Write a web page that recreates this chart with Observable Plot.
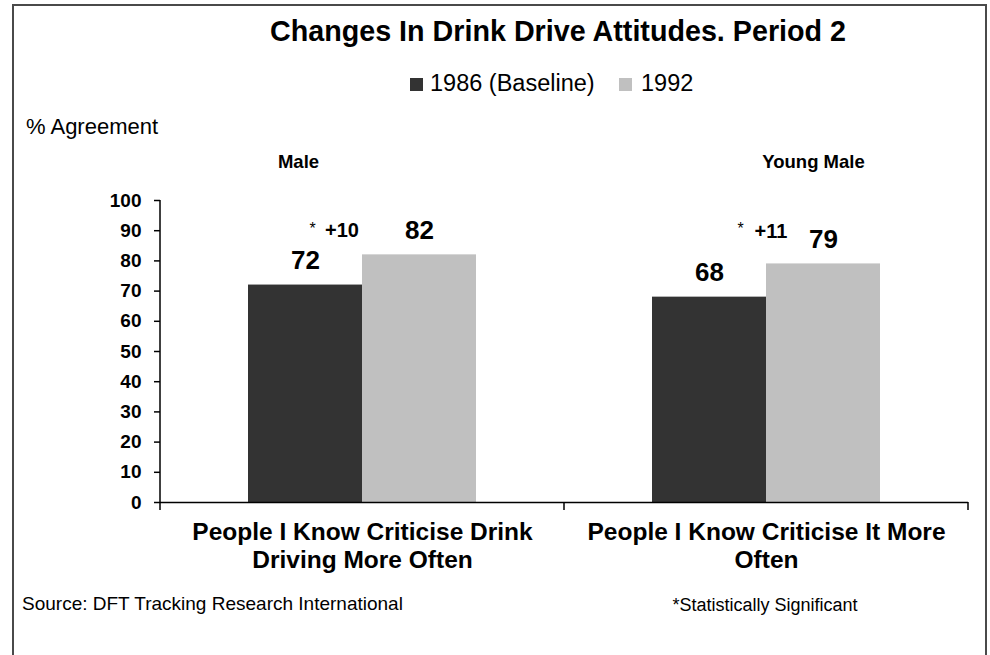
<!DOCTYPE html>
<html><head><meta charset="utf-8">
<script src="https://cdn.jsdelivr.net/npm/d3@7"></script>
<script src="https://cdn.jsdelivr.net/npm/@observablehq/plot@0.6"></script>
<style>
body{margin:0;background:#fff;font-family:"Liberation Sans",Arial,sans-serif;}
#wrap{position:relative;width:990px;height:655px;overflow:hidden;background:#fff;}
.abs{position:absolute;white-space:nowrap;line-height:1;color:#000;}
#border{position:absolute;left:12px;top:4px;width:971px;height:700px;border:2px solid #4a4a4a;}
.sw{position:absolute;width:13px;height:13px;}
</style></head><body>
<div id="wrap">
  <div id="border"></div>
  <div class="abs" id="title" style="left:158px;width:800px;text-align:center;top:17px;font-size:28.7px;font-weight:bold;"></div>
  <div id="legend"></div>
  <div class="abs" id="ylabel" style="left:26px;top:116px;font-size:22px;"></div>
  <div id="chart" style="position:absolute;left:0;top:140px;"></div>
  <div class="abs" id="source" style="left:22px;top:594px;font-size:19px;"></div>
  <div class="abs" id="note" style="left:565px;width:400px;text-align:center;top:596px;font-size:18px;"></div>
</div>
<script>
const titleText = "Changes In Drink Drive Attitudes. Period 2";
const yLabel = "% Agreement";
const sourceText = "Source: DFT Tracking Research International";
const noteText = "*Statistically Significant";

const categories = ["People I Know Criticise Drink\nDriving More Often", "People I Know Criticise It More\nOften"];
const groups = ["Male", "Young Male"];
const years = ["1986 (Baseline)", "1992"];
const values1986 = [72, 68];
const values1992 = [82, 79];
const diffs = ["+10", "+11"];
const yTicks = [0, 10, 20, 30, 40, 50, 60, 70, 80, 90, 100];
const colors = ["#333333", "#c0c0c0"];

document.getElementById("title").textContent = titleText;
document.getElementById("ylabel").textContent = yLabel;
document.getElementById("source").textContent = sourceText;
document.getElementById("note").textContent = noteText;

// legend
const legend = document.getElementById("legend");
const swLeft = [410, 619], txtLeft = [430, 641];
years.forEach((y, i) => {
  const s = document.createElement("div");
  s.className = "sw";
  s.style.left = swLeft[i] + "px"; s.style.top = "78px"; s.style.background = colors[i];
  legend.appendChild(s);
  const t = document.createElement("div");
  t.className = "abs";
  t.style.left = txtLeft[i] + "px"; t.style.top = "72px"; t.style.fontSize = "23.5px";
  t.textContent = y;
  legend.appendChild(t);
});

const rows = categories.flatMap((c, i) => [
  {cat: c, group: groups[i], year: years[0], value: values1986[i], diff: diffs[i]},
  {cat: c, group: groups[i], year: years[1], value: values1992[i], diff: diffs[i]}
]);
const base = rows.filter(d => d.year === years[0]);

const plot = Plot.plot({
  width: 990, height: 440,
  marginTop: 60, marginBottom: 78, marginLeft: 159, marginRight: 22,
  style: {fontFamily: "Liberation Sans, Arial, sans-serif", color: "#000", background: "transparent", overflow: "visible"},
  fx: {domain: categories, padding: 0, axis: null},
  x: {domain: years, paddingInner: 0, paddingOuter: 0.76, axis: null},
  y: {domain: [0, 100], axis: null},
  color: {domain: years, range: colors},
  marks: [
    Plot.barY(rows, {fx: "cat", x: "year", y: "value", fill: "year"}),
    Plot.ruleY([0], {stroke: "#000", strokeWidth: 1.5}),
    Plot.axisY({ticks: yTicks, tickSize: 6, tickPadding: 13, fontSize: 19, fontWeight: "bold", label: null, stroke: "#000", strokeWidth: 1.5}),
    Plot.text(rows, {fx: "cat", x: "year", y: "value", text: d => String(d.value), lineAnchor: "bottom", dy: -16, fontSize: 26, fontWeight: "bold", fill: "#000"}),
    // group labels
    Plot.text(base.filter((d, i) => i === 0), {fx: "cat", text: "group", frameAnchor: "top", lineAnchor: "middle", dy: -38, dx: -64, fontSize: 18.5, fontWeight: "bold", fill: "#000"}),
    Plot.text(base.filter((d, i) => i === 1), {fx: "cat", text: "group", frameAnchor: "top", lineAnchor: "middle", dy: -38, dx: 47, fontSize: 18.5, fontWeight: "bold", fill: "#000"}),
    // significance annotations
    Plot.text(base.filter((d, i) => i === 0), {fx: "cat", x: "year", text: () => "*", frameAnchor: "top", lineAnchor: "bottom", dy: 33, dx: 7, fontSize: 16, fill: "#000"}),
    Plot.text(base.filter((d, i) => i === 0), {fx: "cat", x: "year", text: "diff", frameAnchor: "top", lineAnchor: "bottom", dy: 36, dx: 36.5, fontSize: 20, fontWeight: "bold", fill: "#000"}),
    Plot.text(base.filter((d, i) => i === 1), {fx: "cat", x: "year", text: () => "*", frameAnchor: "top", lineAnchor: "bottom", dy: 33, dx: 31, fontSize: 16, fill: "#000"}),
    Plot.text(base.filter((d, i) => i === 1), {fx: "cat", x: "year", text: "diff", frameAnchor: "top", lineAnchor: "bottom", dy: 37, dx: 61.5, fontSize: 20, fontWeight: "bold", fill: "#000"}),
    // category labels
    Plot.text(base, {fx: "cat", text: "cat", frameAnchor: "bottom", lineAnchor: "top", dy: 17.5, fontSize: 24.5, fontWeight: "bold", lineHeight: 1.15, fill: "#000"})
  ]
});
document.getElementById("chart").appendChild(plot);

// axis line and category boundary ticks, from the plot's scales
const fxS = plot.scale("fx"), yS = plot.scale("y");
const starts = categories.map(c => fxS.apply(c));
const edges = [...starts, starts[starts.length - 1] + fxS.bandwidth];
const y0 = yS.apply(0), y100 = yS.apply(100);
const g = d3.select(plot).append("g").attr("stroke", "#000").attr("stroke-width", 1.5);
g.append("line").attr("x1", edges[0]).attr("x2", edges[0]).attr("y1", y100).attr("y2", y0 + 8);
edges.slice(1).forEach(x => g.append("line").attr("x1", x).attr("x2", x).attr("y1", y0).attr("y2", y0 + 8));
</script>
</body></html>
